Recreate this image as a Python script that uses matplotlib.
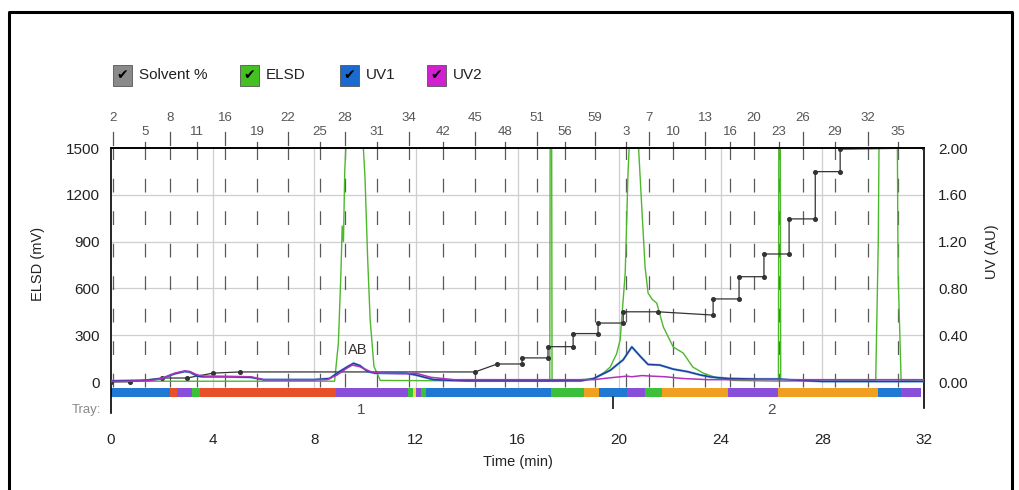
import matplotlib.pyplot as plt
from matplotlib.patches import Rectangle
from matplotlib.lines import Line2D
import matplotlib.transforms as mtransforms

plt.rcParams['font.family'] = ['Liberation Sans', 'DejaVu Sans']

# ---- data ----
elsd_t = [0, 8.8, 8.95, 9.05, 9.1, 9.15, 9.2, 9.3, 9.4, 9.5, 9.6, 9.7, 9.8, 9.9, 10.0,
          10.1, 10.2, 10.35, 10.6, 17.27, 17.3, 17.33, 17.36, 19.0, 19.4, 19.65, 19.9,
          20.04, 20.24, 20.35, 20.45, 20.7, 20.89, 21.02, 21.14, 21.3, 21.48, 21.74,
          22.13, 22.52, 22.9, 23.3, 23.85, 24.5, 26.27, 26.3, 26.33, 26.36, 30.1, 30.2,
          30.3, 30.9, 30.98, 31.1, 32]
elsd_mv = [5, 5, 250, 700, 1000, 900, 1350, 1700, 1500, 1800, 1700, 1800, 1700, 1600, 1300,
           800, 400, 100, 10, 5, 3000, 3000, 5, 20, 60, 96, 180,
           270, 700, 1340, 1700, 1700, 1124, 739, 570, 530, 506, 353,
           224, 186, 96, 58, 26, 10, 5, 3000, 3000, 5, 10, 900,
           3000, 3000, 700, 10, 5]

uv1_t = [0, 1.5, 2.0, 2.5, 2.9, 3.1, 3.4, 3.6, 4.5, 5.5, 6.0, 8.0, 8.6, 9.0, 9.3, 9.55,
         9.8, 10.1, 10.4, 11.0, 11.6, 12.0, 12.7, 14, 18.5, 19.0, 19.65, 20.16, 20.5,
         20.83, 21.14, 21.6, 22.13, 22.7, 23.2, 23.6, 24.3, 25.5, 26.3, 27, 28, 32]
uv1_au = [0.01, 0.015, 0.03, 0.07, 0.09, 0.085, 0.05, 0.045, 0.045, 0.04, 0.02, 0.02, 0.03,
          0.09, 0.13, 0.16, 0.14, 0.09, 0.075, 0.075, 0.075, 0.06, 0.02, 0.01, 0.01, 0.03,
          0.10, 0.19, 0.30, 0.22, 0.15, 0.145, 0.11, 0.088, 0.06, 0.043, 0.03, 0.025,
          0.025, 0.015, 0.005, 0.005]

uv2_t = [0, 1.5, 2.0, 2.5, 2.9, 3.1, 3.4, 3.7, 5.5, 6.0, 8.5, 8.9, 9.3, 9.5, 9.8, 10.2,
         10.6, 11.5, 12.0, 12.6, 13.5, 19.0, 19.6, 20.3, 20.5, 20.9, 21.3, 21.8, 22.5,
         23.5, 32]
uv2_au = [0.005, 0.01, 0.03, 0.075, 0.095, 0.09, 0.06, 0.05, 0.045, 0.02, 0.02, 0.06, 0.12,
          0.145, 0.13, 0.09, 0.075, 0.07, 0.075, 0.04, 0.02, 0.02, 0.035, 0.05, 0.045,
          0.055, 0.05, 0.045, 0.03, 0.02, 0.02]

solv_t = [0, 0.75, 2.0, 2.98, 4.02, 5.08, 14.33, 15.2, 16.18, 16.18, 17.2, 17.2, 18.19,
          18.19, 19.17, 19.17, 20.16, 20.16, 21.54, 23.7, 23.7, 24.72, 24.72, 25.7, 25.7,
          26.69, 26.69, 27.72, 27.72, 28.7, 28.7, 32]
solv_pct = [0, 0.1, 1.7, 1.7, 3.8, 4.3, 4.3, 7.7, 7.7, 10.3, 10.3, 15.1, 15.1, 20.7, 20.7,
            25.2, 25.2, 30.0, 30.0, 28.6, 35.5, 35.5, 45.0, 45.0, 54.7, 54.7, 69.7, 69.7,
            89.9, 89.9, 99.5, 100]

frac_upper_t = [0.07, 2.32, 4.49, 6.97, 9.21, 11.73, 14.33, 16.77, 19.06, 21.18, 23.39,
                25.31, 27.24, 29.80]
frac_upper = ['2', '8', '16', '22', '28', '34', '45', '51', '59', '7', '13', '20', '26', '32']
frac_lower_t = [1.34, 3.39, 5.75, 8.23, 10.47, 13.07, 15.51, 17.87, 20.28, 22.13, 24.37,
                26.30, 28.50, 30.98]
frac_lower = ['5', '11', '19', '25', '31', '42', '48', '56', '3', '10', '16', '23', '29', '35']

tray_start = [0, 2.32, 2.6, 3.2, 3.5, 8.85, 11.7, 11.9, 12.0, 12.2, 12.4, 17.3, 18.6, 19.2,
              20.3, 21.0, 21.7, 24.3, 26.26, 30.2, 31.1]
tray_end = [2.32, 2.6, 3.2, 3.5, 8.85, 11.7, 11.9, 12.0, 12.2, 12.4, 17.3, 18.6, 19.2, 20.3,
            21.0, 21.7, 24.3, 26.26, 30.2, 31.1, 31.9]
tray_kind = ['B', 'R', 'P', 'G', 'R', 'P', 'G', 'Y', 'P', 'G', 'B', 'G', 'O', 'B', 'P', 'G',
             'O', 'P', 'O', 'B', 'P']
tray_names = ['1', '2']
tray_name_t = [9.85, 26.0]

kind_colors = {'B': '#1f78d1', 'R': '#e8502a', 'P': '#8a4fd8', 'G': '#3cc03c',
               'O': '#f0a020', 'Y': '#e0e040'}

# ---- figure ----
fig = plt.figure(figsize=(10.19, 4.90), dpi=100)
W, H = 1019, 490
ax = fig.add_axes([111 / W, 1 - 405 / H, 813 / W, 257 / H])
ymin = -147.4
ax.set_xlim(0, 32)
ax.set_ylim(ymin, 1500)

for y in [300, 600, 900, 1200]:
    ax.axhline(y, color='#cfcfcf', lw=0.9, zorder=0)
for x in [4, 8, 12, 16, 20, 24, 28]:
    ax.axvline(x, ymin=(-30 - ymin) / (1500 - ymin), color='#cfcfcf', lw=0.9, zorder=0)
for x in frac_upper_t + frac_lower_t:
    ax.axvline(x, ymin=(-30 - ymin) / (1500 - ymin), color='#5a5a5a', lw=0.9,
               dashes=(11, 15), zorder=0.5)

# tray strip
for s, e, k in zip(tray_start, tray_end, tray_kind):
    ax.broken_barh([(s, e - s)], (-96, 57.5), facecolors=kind_colors[k], zorder=1)

ax.plot(elsd_t, elsd_mv, color='#4cb82c', lw=1.0, zorder=2)
ax.plot(solv_t, [p * 15 for p in solv_pct], color='#333333', lw=0.9, marker='o',
        markersize=2.6, zorder=5)
ax.text(9.7, 160, 'AB', ha='center', va='bottom', fontsize=10.5, color='#333333', zorder=6)

ax2 = ax.twinx()
ax2.set_ylim(ymin / 750, 2.0)
ax2.plot(uv1_t, uv1_au, color='#3fa9e0', lw=1.8, alpha=0.6, zorder=3)
ax2.plot(uv1_t, uv1_au, color='#1f3c9a', lw=1.1, zorder=3)
ax2.plot(uv2_t, uv2_au, color='#b030c0', lw=1.1, zorder=4)

# axes styling
for a in (ax, ax2):
    a.spines['bottom'].set_visible(False)
    a.spines['left'].set_visible(False)
    a.spines['right'].set_visible(False)
    a.spines['top'].set_color('black')
    a.spines['top'].set_linewidth(1.2)
ax.add_line(Line2D([0, 0], [-0.03, 1], transform=ax.transAxes, color='black', lw=1.2,
                   clip_on=False))
ax.add_line(Line2D([1, 1], [-0.01, 1], transform=ax.transAxes, color='black', lw=1.2,
                   clip_on=False))

ax.set_yticks([0, 300, 600, 900, 1200, 1500])
ax.tick_params(axis='y', length=0, pad=8, labelsize=11, labelcolor='#222222')
ax.set_xticks(range(0, 33, 4))
ax.tick_params(axis='x', length=0, pad=20, labelsize=11, labelcolor='#222222')
ax2.set_yticks([0, 0.4, 0.8, 1.2, 1.6, 2.0])
ax2.set_yticklabels(['%.2f' % v for v in [0, 0.4, 0.8, 1.2, 1.6, 2.0]])
ax2.tick_params(axis='y', length=0, pad=10, labelsize=11, labelcolor='#222222')

ax.set_ylabel('ELSD (mV)', fontsize=10.5, color='#222222')
ax.yaxis.set_label_coords(-0.081, 0.55)
ax2.set_ylabel('UV (AU)', fontsize=10.5, color='#222222')
ax2.yaxis.set_label_coords(1.075, 0.595)
ax.set_xlabel('Time (min)', fontsize=10.5, color='#222222', labelpad=6)

# top fraction scale
tr = mtransforms.blended_transform_factory(ax.transData, ax.transAxes)
for t, lab in zip(frac_upper_t, frac_upper):
    ax.text(t, 1 + 30 / 257, lab, transform=tr, ha='center', va='center', fontsize=9.5,
            color='#555555')
    ax.add_line(Line2D([t, t], [1 + 3 / 257, 1 + 16 / 257], transform=tr, color='#555555',
                       lw=0.9, clip_on=False))
for t, lab in zip(frac_lower_t, frac_lower):
    ax.text(t, 1 + 16 / 257, lab, transform=tr, ha='center', va='center', fontsize=9.5,
            color='#555555')
    ax.add_line(Line2D([t, t], [1 + 1 / 257, 1 + 6 / 257], transform=tr, color='#555555',
                       lw=0.9, clip_on=False))

# tray labels
fig.text(101 / W, 1 - 410 / H, 'Tray:', ha='right', va='center', fontsize=9.5,
         color='#8a8a8a')
for t, lab in zip(tray_name_t, tray_names):
    ax.text(t, -(410 - 405) / 257, lab, transform=tr, ha='center', va='center',
            fontsize=11, color='#4a4a5a')
ax.add_line(Line2D([19.76, 19.76], [(405 - 397) / 257, -(408 - 405) / 257],
                   transform=tr, color='#333333', lw=1.4, clip_on=False))

# legend with check boxes
legend_items = [('Solvent %', '#8a8a8a', 113, 139), ('ELSD', '#44c022', 240, 266),
                ('UV1', '#1a6ad0', 340, 366), ('UV2', '#d020d0', 427, 453)]
for lab, col, bx, tx in legend_items:
    fig.add_artist(Rectangle((bx / W, 1 - 86 / H), 19 / W, 21 / H, facecolor=col,
                             edgecolor='#555555', lw=0.6, transform=fig.transFigure))
    fig.text((bx + 9.5) / W, 1 - 75.5 / H, '\u2714', ha='center', va='center',
             fontsize=10, color='black', family='DejaVu Sans')
    fig.text(tx / W, 1 - 75 / H, lab, ha='left', va='center', fontsize=11,
             color='#222222')

# outer frame
fig.add_artist(Line2D([9 / W, 9 / W, 1012 / W, 1012 / W], [0, 1 - 12 / H, 1 - 12 / H, 0],
                      transform=fig.transFigure, color='black', lw=2.2))

fig.savefig('out.png', dpi=100)
